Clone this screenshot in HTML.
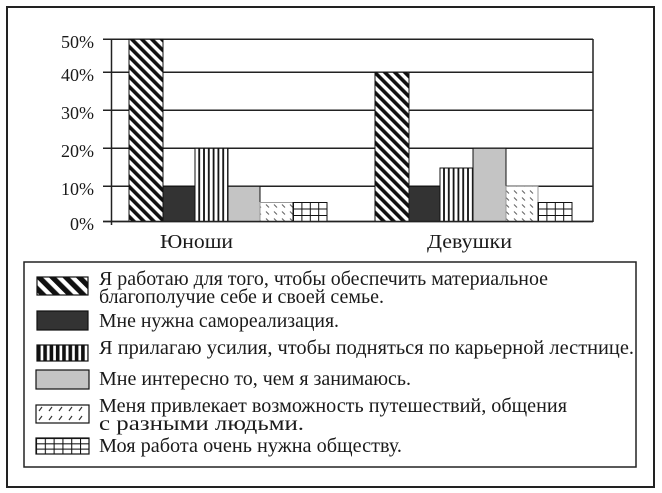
<!DOCTYPE html>
<html><head><meta charset="utf-8"><style>
html,body{margin:0;padding:0;background:#fff;}
svg{display:block;}
text{font-family:"Liberation Serif","DejaVu Serif",serif;fill:#1a1a1a;}
</style></head><body>
<svg width="662" height="493" viewBox="0 0 662 493" xmlns="http://www.w3.org/2000/svg">
<defs>
<pattern id="diag" patternUnits="userSpaceOnUse" width="7.07" height="7.07" patternTransform="rotate(-45)">
<rect x="0" y="0" width="7.07" height="7.07" fill="#fff"/>
<rect x="0" y="0" width="3.6" height="7.07" fill="#111"/>
</pattern>
<pattern id="diagL" patternUnits="userSpaceOnUse" width="9.5" height="9.5" patternTransform="rotate(-45)">
<rect x="0" y="0" width="9.5" height="9.5" fill="#fff"/>
<rect x="0" y="0" width="5.2" height="9.5" fill="#111"/>
</pattern>
<pattern id="vert" patternUnits="userSpaceOnUse" width="4.8" height="10">
<rect x="0" y="0" width="4.8" height="10" fill="#fff"/>
<rect x="1.5" y="0" width="1.8" height="10" fill="#111"/>
</pattern>
<pattern id="vertL" patternUnits="userSpaceOnUse" x="37" width="6.3" height="10">
<rect x="0" y="0" width="6.3" height="10" fill="#fff"/>
<rect x="0" y="0" width="3.6" height="10" fill="#111"/>
</pattern>
<pattern id="dash" patternUnits="userSpaceOnUse" width="8" height="7">
<rect x="0" y="0" width="8" height="7" fill="#fff"/>
<line x1="2" y1="1.5" x2="5" y2="4.5" stroke="#666" stroke-width="1.1"/>
</pattern>
<pattern id="dashL" patternUnits="userSpaceOnUse" x="36" y="405" width="10" height="9">
<rect x="0" y="0" width="10" height="9" fill="#fff"/>
<line x1="6" y1="2" x2="3" y2="6" stroke="#333" stroke-width="1.2"/>
</pattern>
<pattern id="grid" patternUnits="userSpaceOnUse" x="293" y="202" width="8.4" height="6.5">
<rect x="0" y="0" width="8.4" height="6.5" fill="#fff"/>
<line x1="0" y1="0.5" x2="8.4" y2="0.5" stroke="#111" stroke-width="1"/>
<line x1="0.5" y1="0" x2="0.5" y2="6.5" stroke="#111" stroke-width="1"/>
</pattern>
<pattern id="grid2" patternUnits="userSpaceOnUse" x="538" y="202" width="8.4" height="6.5">
<rect x="0" y="0" width="8.4" height="6.5" fill="#fff"/>
<line x1="0" y1="0.5" x2="8.4" y2="0.5" stroke="#111" stroke-width="1"/>
<line x1="0.5" y1="0" x2="0.5" y2="6.5" stroke="#111" stroke-width="1"/>
</pattern>
<pattern id="gridL" patternUnits="userSpaceOnUse" x="36" y="438" width="8.8" height="5.3">
<rect x="0" y="0" width="8.8" height="5.3" fill="#fff"/>
<line x1="0" y1="0.5" x2="8.8" y2="0.5" stroke="#111" stroke-width="1.1"/>
<line x1="0.5" y1="0" x2="0.5" y2="5.3" stroke="#111" stroke-width="1.1"/>
</pattern>
</defs>

<rect x="7" y="7" width="647" height="480" fill="#fff" stroke="#222" stroke-width="2"/>

<g stroke="#222" stroke-width="1.5">
<line x1="103" y1="39.3" x2="593" y2="39.3"/>
<line x1="103" y1="72.3" x2="593" y2="72.3"/>
<line x1="103" y1="110.3" x2="593" y2="110.3"/>
<line x1="103" y1="148.3" x2="593" y2="148.3"/>
<line x1="103" y1="186.3" x2="593" y2="186.3"/>
<line x1="103" y1="221.5" x2="593" y2="221.5"/>
<line x1="111.5" y1="39" x2="111.5" y2="225"/>
<line x1="593" y1="39" x2="593" y2="222"/>
</g>

<g font-size="18" text-anchor="end">
<text x="94" y="48">50%</text>
<text x="94" y="81">40%</text>
<text x="94" y="119">30%</text>
<text x="94" y="157">20%</text>
<text x="94" y="195">10%</text>
<text x="94" y="230">0%</text>
</g>

<g stroke="#111" stroke-width="1">
<rect x="129" y="39.3" width="34" height="182.2" fill="url(#diag)"/>
<rect x="163" y="186.3" width="32" height="35.2" fill="#333"/>
<rect x="195" y="148.3" width="33" height="73.2" fill="url(#vert)"/>
<rect x="228" y="186.3" width="32" height="35.2" fill="#c4c4c4"/>
<rect x="260" y="202.5" width="33" height="19" fill="url(#dash)" stroke="#999"/>
<rect x="293" y="202.5" width="34" height="19" fill="url(#grid)"/>
<rect x="375" y="72.3" width="34" height="149.2" fill="url(#diag)"/>
<rect x="409" y="186.3" width="31" height="35.2" fill="#333"/>
<rect x="440" y="168" width="33" height="53.5" fill="url(#vert)"/>
<rect x="473" y="148.3" width="33" height="73.2" fill="#c4c4c4"/>
<rect x="506" y="186.3" width="32" height="35.2" fill="url(#dash)" stroke="#999"/>
<rect x="538" y="202.5" width="34" height="19" fill="url(#grid2)"/>
</g>
<line x1="103" y1="221.5" x2="593" y2="221.5" stroke="#222" stroke-width="1.5"/>

<text x="160" y="248" font-size="20" textLength="73" lengthAdjust="spacingAndGlyphs">Юноши</text>
<text x="427" y="248" font-size="20" textLength="85" lengthAdjust="spacingAndGlyphs">Девушки</text>

<rect x="24" y="262" width="612" height="205" fill="#fff" stroke="#222" stroke-width="1.5"/>
<g stroke="#111" stroke-width="1.2">
<rect x="37" y="277" width="51" height="18" fill="url(#diagL)"/>
<rect x="37" y="311" width="51" height="19" fill="#333"/>
<rect x="37" y="345" width="51" height="16" fill="url(#vertL)"/>
<rect x="36" y="370" width="53" height="19" fill="#c4c4c4"/>
<rect x="36" y="405" width="53" height="18" fill="url(#dashL)"/>
<rect x="36" y="438" width="53" height="16" fill="url(#gridL)"/>
</g>
<g font-size="20">
<text x="99" y="285" textLength="449" lengthAdjust="spacingAndGlyphs">Я работаю для того, чтобы обеспечить материальное</text>
<text x="99" y="303" textLength="285" lengthAdjust="spacingAndGlyphs">благополучие себе и своей семье.</text>
<text x="99" y="327" textLength="240" lengthAdjust="spacingAndGlyphs">Мне нужна самореализация.</text>
<text x="99" y="354" textLength="535" lengthAdjust="spacingAndGlyphs">Я прилагаю усилия, чтобы подняться по карьерной лестнице.</text>
<text x="99" y="385" textLength="312" lengthAdjust="spacingAndGlyphs">Мне интересно то, чем я занимаюсь.</text>
<text x="99" y="412" textLength="468" lengthAdjust="spacingAndGlyphs">Меня привлекает возможность путешествий, общения</text>
<text x="99" y="430" textLength="205" lengthAdjust="spacingAndGlyphs">с разными людьми.</text>
<text x="99" y="452" textLength="303" lengthAdjust="spacingAndGlyphs">Моя работа очень нужна обществу.</text>
</g>
</svg>
</body></html>
